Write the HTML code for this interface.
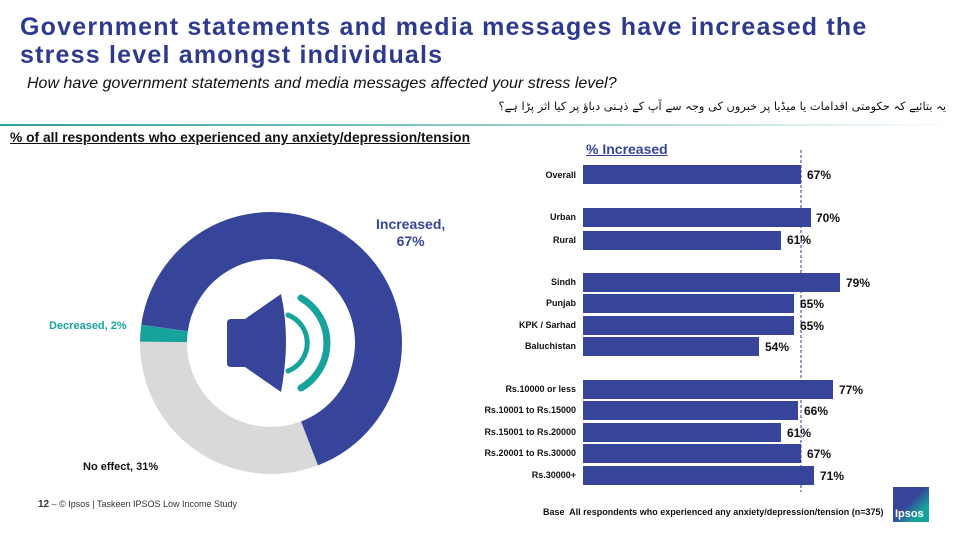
<!DOCTYPE html>
<html><head><meta charset="utf-8"><style>
body{margin:0;width:960px;height:540px;background:#fff;position:relative;overflow:hidden;font-family:"Liberation Sans",Arial,sans-serif}
.a{position:absolute;white-space:nowrap}
.lbl{position:absolute;font-size:9px;font-weight:bold;color:#111;right:384px;text-align:right}
.bar{position:absolute;left:583px;height:19px;background:#36459a}
.val{position:absolute;font-size:12px;font-weight:bold;color:#111}
</style></head><body>
<div class="a" style="left:20px;top:13px;font-size:25px;letter-spacing:1.2px;font-weight:bold;color:#2e3a8c;line-height:28px">Government statements and media messages have increased the<br>stress level amongst individuals</div>
<div class="a" style="left:27px;top:75px;font-size:16px;font-style:italic;color:#111">How have government statements and media messages affected your stress level?</div>
<div class="a" style="right:14px;top:99px;font-size:11.4px;color:#111;font-family:'DejaVu Sans',sans-serif;direction:rtl">یہ بتائیے کہ حکومتی اقدامات یا میڈیا پر خبروں کی وجہ سے آپ کے ذہنی دباؤ پر کیا اثر پڑا ہے؟</div>
<div class="a" style="left:0;top:124px;width:960px;height:2px;background:linear-gradient(90deg,#2aa39b,#9fd3cf 60%,#fff)"></div>
<div class="a" style="left:10px;top:130px;font-size:13.8px;font-weight:bold;color:#111;text-decoration:underline">% of all respondents who experienced any anxiety/depression/tension</div>
<svg class="a" style="left:0;top:0" width="960" height="540">
<g transform="translate(271,343)">
<circle r="107.5" fill="none" stroke="#36459a" stroke-width="47" stroke-dasharray="452.6 1000" transform="rotate(188)"/>
<circle r="107.5" fill="none" stroke="#d9d9d9" stroke-width="47" stroke-dasharray="209.4 1000" transform="rotate(69)"/>
<circle r="107.5" fill="none" stroke="#17a39b" stroke-width="47" stroke-dasharray="13.9 1000" transform="rotate(180.6)"/>
<path d="M-40,-24 L-26,-24 L10,-49 Q20,-4 10,49 L-26,24 L-40,24 Q-44,24 -44,20 L-44,-20 Q-44,-24 -40,-24Z" fill="#36459a"/>
<path d="M17,-28 A30,30 0 0 1 17,28" fill="none" stroke="#17a39b" stroke-width="5" stroke-linecap="round"/>
<path d="M30,-45 A52,52 0 0 1 30,45" fill="none" stroke="#17a39b" stroke-width="7" stroke-linecap="round"/>
</g>
<line x1="801" y1="150" x2="801" y2="492" stroke="#2e3a8c" stroke-width="1" stroke-dasharray="3,2"/>
</svg>
<div class="a" style="left:376px;top:216px;font-size:14px;font-weight:bold;color:#36459a;text-align:center;line-height:17px">Increased,<br>67%</div>
<div class="a" style="left:49px;top:320px;font-size:11px;font-weight:bold;color:#17a39b">Decreased, 2%</div>
<div class="a" style="left:83px;top:461px;font-size:11px;font-weight:bold;color:#111">No effect, 31%</div>
<div class="a" style="left:586px;top:141px;font-size:14px;font-weight:bold;color:#36459a;text-decoration:underline">% Increased</div>

<div class="lbl" style="top:170px">Overall</div><div class="bar" style="top:165px;width:218px"></div><div class="val" style="left:807px;top:168px">67%</div>
<div class="lbl" style="top:212px">Urban</div><div class="bar" style="top:208px;width:228px"></div><div class="val" style="left:816px;top:211px">70%</div>
<div class="lbl" style="top:235px">Rural</div><div class="bar" style="top:231px;width:198px"></div><div class="val" style="left:787px;top:233px">61%</div>
<div class="lbl" style="top:277px">Sindh</div><div class="bar" style="top:273px;width:257px"></div><div class="val" style="left:846px;top:276px">79%</div>
<div class="lbl" style="top:298px">Punjab</div><div class="bar" style="top:294px;width:211px"></div><div class="val" style="left:800px;top:297px">65%</div>
<div class="lbl" style="top:320px">KPK / Sarhad</div><div class="bar" style="top:316px;width:211px"></div><div class="val" style="left:800px;top:319px">65%</div>
<div class="lbl" style="top:341px">Baluchistan</div><div class="bar" style="top:337px;width:176px"></div><div class="val" style="left:765px;top:340px">54%</div>
<div class="lbl" style="top:384px">Rs.10000 or less</div><div class="bar" style="top:380px;width:250px"></div><div class="val" style="left:839px;top:383px">77%</div>
<div class="lbl" style="top:405px">Rs.10001 to Rs.15000</div><div class="bar" style="top:401px;width:215px"></div><div class="val" style="left:804px;top:404px">66%</div>
<div class="lbl" style="top:427px">Rs.15001 to Rs.20000</div><div class="bar" style="top:423px;width:198px"></div><div class="val" style="left:787px;top:426px">61%</div>
<div class="lbl" style="top:448px">Rs.20001 to Rs.30000</div><div class="bar" style="top:444px;width:218px"></div><div class="val" style="left:807px;top:447px">67%</div>
<div class="lbl" style="top:470px">Rs.30000+</div><div class="bar" style="top:466px;width:231px"></div><div class="val" style="left:820px;top:469px">71%</div>

<div class="a" style="left:38px;top:499px;font-size:9px;color:#333"><b style="font-size:10px">12</b> – © Ipsos | Taskeen IPSOS Low Income Study</div>
<div class="a" style="left:543px;top:507px;font-size:9px;font-weight:bold;color:#111">Base&nbsp; All respondents who experienced any anxiety/depression/tension (n=375)</div>
<div class="a" style="left:893px;top:487px;width:36px;height:35px;background:linear-gradient(135deg,#36459a 45%,#17a39b 75%)"></div>
<div class="a" style="left:895px;top:508px;font-size:11px;font-weight:bold;color:#fff">Ipsos</div>
</body></html>
